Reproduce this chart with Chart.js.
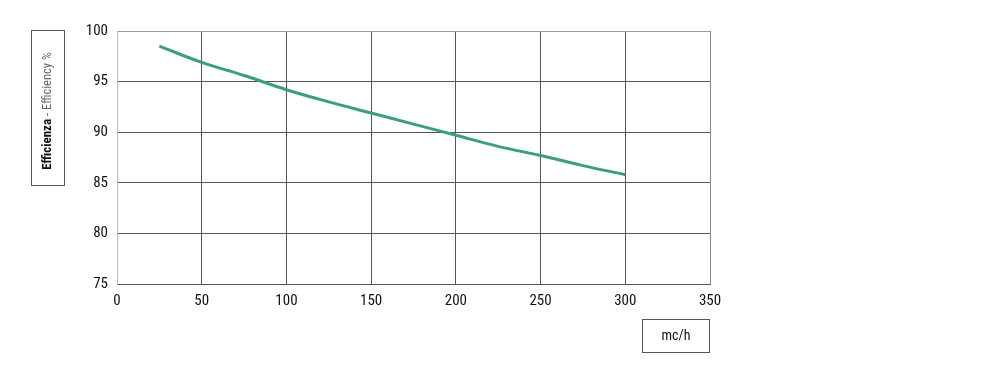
<!DOCTYPE html>
<html>
<head>
<meta charset="utf-8">
<script src="https://cdn.jsdelivr.net/npm/chart.js@4"></script>
<style>
  html, body { margin: 0; padding: 0; background: #fff; }
  #wrap { width: 1000px; height: 380px; position: relative; }
</style>
</head>
<body>
<div id="wrap"><canvas id="effChart" width="1000" height="380"></canvas></div>
<script>
// airflow (mc/h) and efficiency (%)
const flow = [25, 50, 75, 100, 125, 150, 175, 200, 225, 250, 275, 300];
const efficiency = [98.5, 96.9, 95.6, 94.2, 93.0, 91.9, 90.8, 89.7, 88.6, 87.7, 86.7, 85.8];

const xTicks = [0, 50, 100, 150, 200, 250, 300, 350];
const yTicks = [75, 80, 85, 90, 95, 100];

const labelFont = '"Roboto Condensed", "Liberation Sans Narrow", "Liberation Sans", Arial, sans-serif';

// draws the two boxed axis titles
const axisBoxes = {
    id: 'axisBoxes',
    afterDraw(chart) {
        const ctx = chart.ctx;
        ctx.save();
        ctx.strokeStyle = '#555';
        ctx.lineWidth = 1;

        // y title box
        ctx.strokeRect(31.5, 30.5, 33, 155);
        ctx.translate(48, 111);
        ctx.rotate(-Math.PI / 2);
        ctx.textBaseline = 'middle';
        ctx.font = 'bold 13px ' + labelFont;
        const a = 'Efficienza';
        const b = ' - Efficiency %';
        const wa = ctx.measureText(a).width;
        ctx.font = '12.5px ' + labelFont;
        const wb = ctx.measureText(b).width;
        let x0 = -(wa + wb) / 2;
        ctx.font = 'bold 13px ' + labelFont;
        ctx.fillStyle = '#111';
        ctx.textAlign = 'left';
        ctx.fillText(a, x0, 0);
        ctx.font = '12.5px ' + labelFont;
        ctx.fillStyle = '#666';
        ctx.fillText(b, x0 + wa, 0);
        ctx.setTransform(1, 0, 0, 1, 0, 0);

        // x title box
        ctx.strokeRect(642.5, 319.5, 67, 33);
        ctx.fillStyle = '#111';
        ctx.textAlign = 'center';
        ctx.textBaseline = 'middle';
        ctx.font = '14px ' + labelFont;
        ctx.fillText('mc/h', 676, 336);
        ctx.restore();
    }
};

const tickFont = { family: labelFont, size: 15 };

new Chart(document.getElementById('effChart'), {
    type: 'line',
    data: {
        datasets: [{
            data: flow.map((f, i) => ({ x: f, y: efficiency[i] })),
            borderColor: '#3d9c83',
            borderWidth: 3,
            pointRadius: 0,
            tension: 0.4,
            fill: false
        }]
    },
    options: {
        responsive: false,
        animation: false,
        layout: { padding: { left: 0, right: 290, top: 31, bottom: 0 } },
        plugins: { legend: { display: false }, tooltip: { enabled: false } },
        scales: {
            x: {
                type: 'linear',
                min: 0,
                max: 350,
                afterFit: (s) => { s.height = 96; },
                afterBuildTicks: (s) => { s.ticks = xTicks.map(v => ({ value: v })); },
                grid: {
                    color: (c) => c.tick && c.tick.value === 350 ? '#888' : '#555',
                    lineWidth: 1,
                    drawTicks: false
                },
                border: { color: '#555' },
                ticks: { padding: 8, color: '#111', font: tickFont }
            },
            y: {
                min: 75,
                max: 100,
                afterFit: (s) => { s.width = 117; },
                afterBuildTicks: (s) => { s.ticks = yTicks.map(v => ({ value: v })); },
                grid: {
                    color: (c) => c.tick && c.tick.value === 100 ? '#999' : '#555',
                    lineWidth: 1,
                    drawTicks: false
                },
                border: { color: '#bbb' },
                ticks: { padding: 9, color: '#111', font: tickFont }
            }
        }
    },
    plugins: [axisBoxes]
});
</script>
</body>
</html>
